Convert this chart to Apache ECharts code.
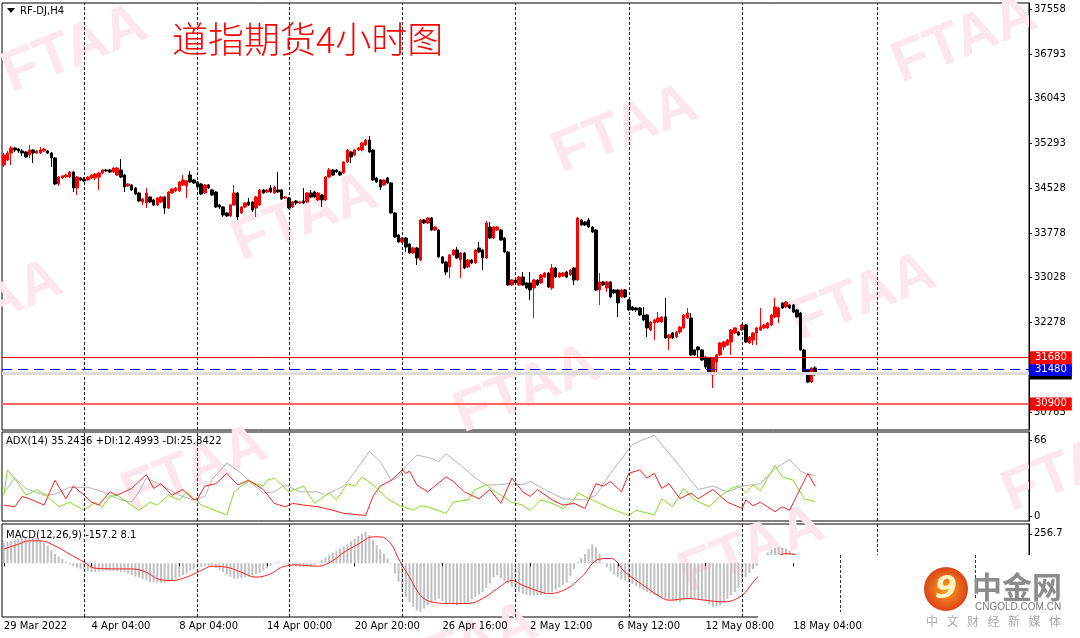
<!DOCTYPE html>
<html><head><meta charset="utf-8">
<script src="https://cdn.jsdelivr.net/npm/echarts@6/dist/echarts.min.js"></script>
<style>html,body{margin:0;padding:0;background:#fff}#c{width:1080px;height:638px}</style>
</head><body><div id="c"></div>
<script>
// ---------- DATA ----------
const opens = [34928,35012,35130,35215,35198,35164,35147,35097,35181,35130,
35130,35164,35164,35130,35046,34608,34709,34726,34726,34810,
34540,34709,34692,34675,34709,34709,34726,34793,34844,34844,
34810,34759,34844,34759,34574,34591,34540,34456,34304,34287,
34389,34338,34254,34304,34389,34203,34456,34490,34490,34591,
34574,34759,34675,34641,34608,34456,34591,34507,34473,34254,
34220,34119,34068,34254,34456,34119,34220,34304,34304,34203,
34254,34507,34473,34540,34456,34507,34507,34372,34372,34220,
34321,34287,34321,34304,34456,34473,34338,34422,34338,34726,
34844,34844,34810,34793,34979,35147,35097,35181,35181,35265,
35350,35181,34709,34675,34591,34709,34625,34119,33748,33630,
33697,33596,33444,33529,33326,34001,33950,34035,33832,33832,
33377,33293,33208,33411,33495,33326,33444,33208,33326,33276,
33529,33495,33360,33883,33697,33832,33832,33697,33461,32905,
32989,32905,33040,32939,32939,32854,32989,32939,33040,33107,
32854,33192,33040,33057,33124,33074,33192,32989,34001,33967,
34001,33883,33832,32821,32956,32854,32956,32821,32821,32703,
32821,32652,32534,32517,32517,32399,32399,32146,32264,32281,
32281,32366,32011,32096,32028,32112,32180,32349,32349,31809,
31860,31809,31691,31674,31387,31607,31725,31860,31893,31944,
32096,32112,32146,32231,31927,31977,32096,32146,32180,32180,
32231,32366,32366,32602,32534,32568,32568,32484,32433,31809,
31472,31269,31506];
const closes = [35097,35130,35215,35181,35164,35130,35063,35181,35130,35164,
35181,35198,35130,35046,34608,34726,34743,34759,34810,34540,
34726,34675,34658,34726,34759,34776,34793,34844,34827,34810,
34877,34877,34726,34557,34608,34507,34439,34321,34355,34456,
34304,34254,34372,34389,34203,34473,34523,34540,34641,34675,
34658,34641,34625,34557,34439,34591,34540,34422,34220,34220,
34085,34068,34254,34456,34052,34220,34287,34254,34169,34389,
34507,34456,34507,34473,34557,34473,34355,34389,34203,34304,
34287,34304,34287,34456,34389,34389,34456,34338,34726,34844,
34759,34810,34759,34979,35181,35063,35181,35215,35299,35350,
35147,34675,34641,34557,34675,34625,34119,33714,33630,33697,
33546,33444,33529,33360,34001,33950,34035,33832,33883,33377,
33276,33124,33411,33495,33360,33444,33192,33326,33276,33495,
33461,33360,33950,33697,33883,33883,33664,33461,32905,32989,
32939,33040,32905,32854,32821,32989,32905,33074,33107,32871,
33192,33040,33107,33107,33040,33158,32989,34035,33916,33916,
33883,33798,32821,32956,32905,32956,32703,32770,32602,32821,
32703,32484,32484,32484,32399,32315,32180,32281,32315,32349,
32366,32011,32062,32011,32112,32197,32399,32433,31725,31725,
31809,31640,31522,31421,31674,31725,31927,31944,31977,32146,
32180,32062,32231,31944,32028,32096,32180,32197,32231,32264,
32399,32534,32517,32517,32618,32517,32450,32366,31809,31438,
31269,31506,31421];
const highs = [35130,35164,35248,35232,35215,35198,35164,35265,35198,35181,
35232,35215,35181,35147,35063,34743,34759,34776,34827,34827,
34743,34726,34726,34743,34776,34793,34810,34861,34861,34861,
34894,34894,35029,34776,34625,34608,34557,34473,34372,34540,
34405,34355,34389,34405,34405,34490,34540,34557,34658,34759,
34675,34827,34692,34658,34625,34608,34608,34523,34490,34271,
34237,34136,34271,34591,34473,34237,34304,34372,34321,34405,
34523,34523,34523,34591,34574,34810,34523,34405,34389,34321,
34338,34321,34540,34473,34507,34490,34473,34439,34743,34877,
34861,34861,34827,34995,35198,35164,35198,35232,35316,35366,
35417,35198,34726,34692,34692,34726,34641,34136,33765,33714,
33714,33613,33546,33546,34018,34018,34052,34052,33900,33849,
33394,33310,33428,33512,33546,33461,33461,33343,33343,33512,
33630,33512,33984,33967,33900,33900,33849,33714,33478,33006,
33006,33057,33124,32956,33124,33006,33006,33090,33124,33124,
33259,33208,33124,33124,33141,33175,33208,34052,34018,33984,
34035,33900,33849,33107,32972,32972,32972,32838,32838,32838,
32838,32669,32551,32534,32534,32534,32416,32298,32332,32450,
32382,32686,32079,32112,32129,32214,32416,32517,32433,31826,
31876,31826,31708,31691,31691,31742,31944,31961,31994,32163,
32197,32129,32247,32247,32045,32112,32197,32517,32247,32281,
32416,32686,32534,32618,32635,32585,32585,32500,32450,31826,
31489,31522,31539];
const lows = [34894,34995,34928,35147,35130,35080,35046,35046,34962,35114,
35114,35147,35114,34894,34591,34574,34692,34709,34709,34473,
34422,34658,34641,34658,34692,34675,34507,34776,34810,34793,
34793,34743,34709,34473,34557,34490,34422,34304,34254,34203,
34287,34237,34237,34287,34102,34186,34439,34473,34473,34574,
34372,34625,34608,34540,34422,34439,34523,34405,34203,34186,
34052,34052,34052,34237,34001,34102,34203,34237,34136,34052,
34237,34439,34456,34456,34439,34456,34338,34355,34186,34203,
34254,34271,34271,34287,34372,34372,34321,34220,34321,34709,
34743,34793,34743,34776,34962,34962,35080,35164,35164,35248,
35130,34658,34625,34507,34574,34608,34102,33697,33613,33613,
33461,33428,33428,33242,33310,33933,33933,33815,33815,33360,
33259,33074,33023,33394,33343,33023,33175,33192,33259,33259,
33444,33158,33343,33680,33680,33815,33647,33444,32888,32888,
32922,32888,32888,32838,32652,32349,32888,32922,33023,32854,
32821,33023,33023,33040,33023,33057,32905,32972,33900,33900,
33866,33782,32804,32568,32888,32787,32686,32753,32366,32686,
32686,32467,32467,32450,32382,32298,32028,32129,31977,32264,
32264,31994,31809,31994,32011,32079,32163,32332,31708,31708,
31674,31624,31489,31404,31168,31438,31708,31809,31876,31725,
32079,32045,32129,31927,31910,31893,31893,32129,32163,32163,
32214,32349,32264,32500,32517,32500,32433,32349,31792,31421,
31252,31252,31371];

const tickLabels = ['29 Mar 2022','4 Apr 04:00','8 Apr 04:00','14 Apr 00:00','20 Apr 20:00',
  '26 Apr 16:00','2 May 12:00','6 May 12:00','12 May 08:00','18 May 04:00'];
const barsPerLabel = 24;
const slotCount = 281;                 // visible bar slots incl. empty right margin
const separatorBars = [22,53,78,109,140,171,202,239];
const priceTicks = [37558,36793,36043,35293,34528,33778,33028,32278,30763];
const adxTicks = [0,66];
const macdTicks = [256.7];
const resistanceLevel = 31680;
const pivotLevel = 31480;
const supportLevel = 30900;

// ADX(14) lines as [bar, value] vertices
const adxMain = [[0,20],[3,33],[6,24],[11,18],[14,19],[18,25],[23,25],[27,21],[32,14],[35,12],[37,21],[39,33],[43,27],[48,18],[52,14],[55,17],[57,32],[61,46],[65,37],[68,28],[71,20],[74,21],[77,27],[81,21],[86,21],[88,18],[91,23],[93,26],[96,38],[100,56],[103,47],[106,31],[108,34],[110,43],[113,53],[117,50],[119,47],[121,54],[125,44],[129,33],[132,27],[135,27],[138,28],[142,27],[144,30],[148,23],[153,15],[159,14],[162,18],[166,37],[172,62],[174,65],[178,70],[180,62],[184,47],[190,23],[194,26],[198,21],[202,26],[207,28],[211,41],[215,49],[218,39],[220,36],[222,35.2]];
const minusDI = [[0,9.5],[3,8],[5,17],[7,15],[11,9.5],[14,31],[17,15],[19,26],[22,18],[24,12],[26,9.5],[29,21],[31,18],[35,24],[39,36],[41,24],[43,28],[46,18],[49,23],[52,14],[53,15],[55,26],[58,28],[61,37],[64,27],[67,31],[71,23],[74,11],[77,8],[79,11],[82,9.5],[86,8],[90,5],[93,2.3],[99,0.5],[101,17],[103,26],[106,31],[109,40],[110,37],[111,39],[113,27],[116,21],[121,34],[123,30],[126,21],[130,15],[133,23],[136,11],[139,33],[142,21],[144,17],[146,23],[150,14],[153,9.5],[156,11],[159,6.6],[162,28],[164,26],[166,30],[169,21],[171,37],[174,40],[176,33],[178,37],[180,24],[182,28],[185,15],[188,20],[190,15],[194,23],[198,12],[202,6.6],[203,14],[205,9],[207,12],[211,3.8],[213,8],[215,5],[217,18],[220,37],[222,25.8]];
const plusDI = [[0,18],[1,40],[4,28],[6,18],[8,21],[9,23],[12,17],[15,8],[18,12],[22,5],[25,12],[27,8],[29,17],[31,18],[37,5],[40,12],[42,9.5],[45,18],[48,14],[50,21],[54,9.5],[61,1],[63,21],[65,26],[67,30],[71,26],[72,31],[74,33],[75,30],[78,21],[82,26],[85,11],[89,20],[91,14],[94,28],[96,26],[98,34],[101,27],[105,15],[108,9.5],[112,5],[114,9],[116,8],[121,2.3],[123,12],[127,14],[129,23],[132,27],[134,22],[139,12],[142,9.5],[144,5],[147,14],[150,11],[153,6.6],[156,14],[157,20],[161,14],[166,6.6],[171,0.5],[173,5],[178,1],[180,15],[183,8],[186,24],[189,14],[193,8],[196,17],[199,24],[201,26],[203,20],[205,27],[207,22],[209,33],[211,44],[213,34],[216,31],[219,15],[222,12.5]];

// MACD(12,26,9)
const macdHist = [181,190,198,206,212,217,221,224,225,220,
205,180,152,115,80,58,37,14,-10,-25,
-38,-49,-60,-70,-77,-76,-72,-67,-64,-63,
-66,-70,-75,-78,-90,-103,-116,-125,-137,-150,
-162,-166,-169,-170,-170,-160,-147,-135,-120,-104,
-88,-65,-50,-38,-30,-25,-22,-20,-40,-60,
-78,-98,-118,-135,-133,-128,-123,-118,-107,-96,
-84,-64,-44,-25,-5,14,5,-8,-20,-24,
-28,-32,-35,-30,-25,-20,5,28,50,70,
90,108,128,148,167,191,215,239,258,274,
245,200,158,120,85,40,-6,-90,-160,-230,
-293,-340,-380,-410,-424,-395,-366,-345,-325,-308,
-330,-348,-355,-360,-366,-355,-345,-337,-315,-295,
-272,-251,-215,-175,-125,-107,-130,-155,-175,-205,
-232,-250,-265,-275,-280,-280,-280,-278,-268,-258,
-251,-230,-210,-188,-168,-110,-50,9,45,80,
125,167,140,80,-5,-35,-70,-100,-120,-138,
-152,-164,-180,-200,-218,-235,-251,-265,-278,-290,
-300,-308,-318,-328,-335,-337,-325,-315,-308,-310,
-315,-320,-323,-355,-380,-372,-366,-340,-310,-280,
-251,-215,-175,-120,-85,-50,-20,20,60,95,
120,135,140,135,130,110,90,55,20,-30,
-80,-120,-157];
const macdSignal = [[0,124],[4,167],[7,196],[10,196],[14,152],[18,80],[22,9],[25,-43],[31,-49],[35,-49],[39,-78],[42,-135],[46,-150],[50,-121],[54,-63],[57,-26],[61,-35],[65,-78],[69,-121],[73,-92],[76,-35],[80,-14],[86,-26],[90,23],[93,95],[97,167],[101,231],[103,231],[106,167],[108,37],[111,-121],[114,-280],[117,-337],[122,-351],[127,-351],[131,-308],[135,-222],[139,-150],[142,-193],[147,-251],[149,-265],[154,-222],[158,-121],[163,37],[166,43],[170,-78],[175,-193],[179,-280],[182,-323],[187,-308],[192,-323],[197,-337],[202,-280],[205,-164],[208,-60],[211,40],[214,85],[217,70],[220,35],[222,8]];

// ---------- CHART ----------
const FONT = 'DejaVu Sans';
const chart = echarts.init(document.getElementById('c'), null, {renderer:'canvas'});
const categories = [];
for (let i = 0; i < slotCount; i++) categories.push(String(i));
const candleData = opens.map((o, i) => [o, closes[i], lows[i], highs[i]]);
const bid = closes[closes.length - 1];
const showLabelAt = (idx) => idx % barsPerLabel === 0 && idx / barsPerLabel < tickLabels.length;
const vLines = separatorBars.map(b => ({xAxis: b}));
const vLineMark = {
  symbol: ['none','none'], silent: true, animation: false,
  lineStyle: {color: '#222', width: 1, type: [3,2]},
  label: {show: false}, data: vLines
};
const tag = (bg) => ({show: true, position: 'end', distance: 1, color: '#fff', backgroundColor: bg,
  fontFamily: FONT, fontSize: 10, lineHeight: 11, padding: [1,5,1,5]});
const plain = (v) => String(v);

const wmCenters = [[75,50],[965,40],[625,130],[305,218],[-10,305],[863,298],[527,390],[195,470],[752,550],[1075,469],[465,648]];
const graphics = [];
wmCenters.forEach(([x, y]) => graphics.push({
  type: 'text', x, y, rotation: 0.38, z: 0, silent: true,
  style: {text: 'FTAA', align: 'center', verticalAlign: 'middle', fill: '#fde7ee', font: 'bold 58px "Liberation Sans"'}
}));
graphics.push(
  {type: 'polygon', z: 50, shape: {points: [[7,8],[15,8],[11,13]]}, style: {fill: '#000'}},
  {type: 'text', x: 20, y: 11, z: 50, style: {text: 'RF-DJ,H4', font: '10px "DejaVu Sans"', fill: '#000', verticalAlign: 'middle'}},
  {type: 'text', x: 172, y: 39, z: 50, style: {text: '道指期货4小时图', font: '300 36px "Noto Sans CJK SC"', fill: '#ff0000', verticalAlign: 'middle'}},
  {type: 'text', x: 6, y: 441, z: 50, style: {text: 'ADX(14) 35.2436 +DI:12.4993 -DI:25.8422', font: '10px "DejaVu Sans"', fill: '#000', verticalAlign: 'middle'}},
  {type: 'text', x: 6, y: 535, z: 50, style: {text: 'MACD(12,26,9) -157.2 8.1', font: '10px "DejaVu Sans"', fill: '#000', verticalAlign: 'middle'}},
  // pasted logo patch (bottom right)
  {type: 'rect', z: 100, shape: {x: 758, y: 555, width: 322, height: 83}, style: {fill: '#fff'}},
  {type: 'line', z: 101, shape: {x1: 840.5, y1: 555, x2: 840.5, y2: 612}, style: {stroke: '#333', lineWidth: 1, lineDash: [3,2]}},
  {type: 'line', z: 101, shape: {x1: 975.5, y1: 555, x2: 975.5, y2: 600}, style: {stroke: '#333', lineWidth: 1, lineDash: [3,2]}},
  {type: 'circle', z: 102, shape: {cx: 946, cy: 589, r: 22}, style: {fill: {type: 'radial', x: 0.5, y: 0.5, r: 0.6, colorStops: [{offset: 0, color: '#f8a51c'}, {offset: 1, color: '#d9301a'}]}}},
  {type: 'text', z: 103, x: 946, y: 590, style: {text: '9', align: 'center', verticalAlign: 'middle', fill: '#fff3c0', font: 'bold italic 32px "DejaVu Sans"'}},
  {type: 'text', z: 102, x: 972, y: 587, style: {text: '中金网', verticalAlign: 'middle', fill: '#8c8c8c', font: 'bold 30px "Noto Sans CJK SC"'}},
  {type: 'text', z: 102, x: 975, y: 607, style: {text: 'CNGOLD.COM.CN', verticalAlign: 'middle', fill: '#777', font: '10px "Liberation Sans"'}}
);
'中文财经新媒体'.split('').forEach((ch, i) => graphics.push(
  {type: 'text', z: 102, x: 926 + i * 20.5, y: 621, style: {text: ch, verticalAlign: 'middle', fill: '#aaa', font: '12px "Noto Sans CJK SC"'}}
));

const option = {
  animation: false,
  backgroundColor: '#fff',
  textStyle: {fontFamily: FONT},
  grid: [
    {left: 2, top: 3, width: 1027, height: 427, show: true, borderColor: '#000', borderWidth: 1},
    {left: 2, top: 432, width: 1027, height: 89, show: true, borderColor: '#000', borderWidth: 1},
    {left: 2, top: 524, width: 1027, height: 93, show: true, borderColor: '#000', borderWidth: 1}
  ],
  xAxis: [
    {type: 'category', gridIndex: 0, data: categories, show: false},
    {type: 'category', gridIndex: 1, data: categories, show: false},
    {type: 'category', gridIndex: 2, data: categories, z: 120,
      axisLine: {show: false},
      axisTick: {show: true, interval: showLabelAt, alignWithLabel: true, length: 3, lineStyle: {color: '#000'}},
      axisLabel: {interval: showLabelAt, formatter: (v) => tickLabels[Number(v) / barsPerLabel] || '',
        align: 'left', margin: 4, fontSize: 10, fontFamily: FONT, color: '#000'}}
  ],
  yAxis: [
    {type: 'value', gridIndex: 0, position: 'right', min: 30460, max: 37659, splitLine: {show: false},
      axisLine: {show: true, lineStyle: {color: '#000'}},
      axisTick: {show: true, customValues: priceTicks, length: 3, lineStyle: {color: '#000'}},
      axisLabel: {customValues: priceTicks, formatter: plain, fontSize: 10, fontFamily: FONT, color: '#000', margin: 5}},
    {type: 'value', gridIndex: 1, position: 'right', min: -4.3, max: 72.9, splitLine: {show: false},
      axisLine: {show: true, lineStyle: {color: '#000'}},
      axisTick: {show: true, customValues: adxTicks, length: 3, lineStyle: {color: '#000'}},
      axisLabel: {customValues: adxTicks, formatter: plain, fontSize: 10, fontFamily: FONT, color: '#000', margin: 5}},
    {type: 'value', gridIndex: 2, position: 'right', min: -469, max: 343, splitLine: {show: false},
      axisLine: {show: true, lineStyle: {color: '#000'}},
      axisTick: {show: true, customValues: macdTicks, length: 3, lineStyle: {color: '#000'}},
      axisLabel: {customValues: macdTicks, formatter: (v) => v.toFixed(1), fontSize: 10, fontFamily: FONT, color: '#000', margin: 5}}
  ],
  series: [
    {type: 'candlestick', xAxisIndex: 0, yAxisIndex: 0, data: candleData, barWidth: 3,
      itemStyle: {color: '#ff0000', color0: '#000000', borderColor: '#ff0000', borderColor0: '#000000', borderWidth: 1},
      markLine: {
        symbol: ['none','none'], silent: true, animation: false,
        data: [
          ...vLines.map(d => Object.assign({}, d, {lineStyle: {color: '#222', width: 1, type: [3,2]}, label: {show: false}})),
          {yAxis: bid, lineStyle: {color: '#dcdcdc', width: 3, type: 'solid'}, label: Object.assign(tag('#000'), {formatter: String(bid)})},
          {yAxis: pivotLevel, lineStyle: {color: '#0000ff', width: 1, type: [10,6]}, label: Object.assign(tag('#0000ff'), {formatter: String(pivotLevel)})},
          {yAxis: resistanceLevel, lineStyle: {color: '#ee0000', width: 1, type: 'solid'}, label: Object.assign(tag('#ff0000'), {formatter: String(resistanceLevel)})},
          {yAxis: supportLevel, lineStyle: {color: '#ff6464', width: 2, type: 'solid'}, label: Object.assign(tag('#ff0000'), {formatter: String(supportLevel)})}
        ]
      }},
    {type: 'line', name: 'ADX', xAxisIndex: 1, yAxisIndex: 1, data: adxMain, symbol: 'none',
      lineStyle: {color: '#b4b4b4', width: 1}, markLine: vLineMark},
    {type: 'line', name: '+DI', xAxisIndex: 1, yAxisIndex: 1, data: plusDI, symbol: 'none',
      lineStyle: {color: '#80e020', width: 1}},
    {type: 'line', name: '-DI', xAxisIndex: 1, yAxisIndex: 1, data: minusDI, symbol: 'none',
      lineStyle: {color: '#ff2020', width: 1}},
    {type: 'bar', name: 'MACD', xAxisIndex: 2, yAxisIndex: 2, data: macdHist, barWidth: 2,
      itemStyle: {color: '#c0c0c0'}, markLine: vLineMark},
    {type: 'line', name: 'Signal', xAxisIndex: 2, yAxisIndex: 2, data: macdSignal, symbol: 'none', smooth: 0.4,
      lineStyle: {color: '#ff2020', width: 1}}
  ],
  graphic: graphics
};
chart.setOption(option);
</script>
</body></html>
